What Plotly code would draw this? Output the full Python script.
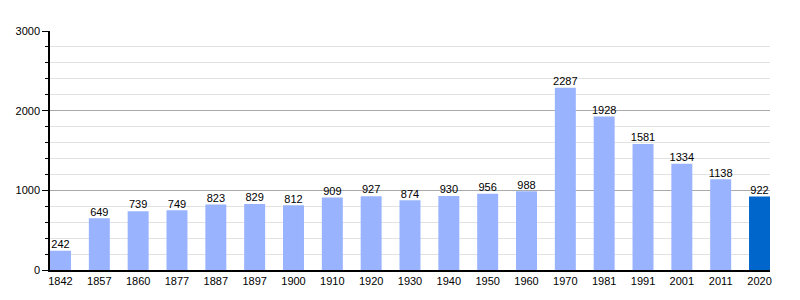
import plotly.graph_objects as go

years = ["1842", "1857", "1860", "1877", "1887", "1897", "1900", "1910", "1920", "1930",
         "1940", "1950", "1960", "1970", "1981", "1991", "2001", "2011", "2020"]
population = [242, 649, 739, 749, 823, 829, 812, 909, 927, 874,
              930, 956, 988, 2287, 1928, 1581, 1334, 1138, 922]
y_ticks = [0, 1000, 2000, 3000]

colors = ["#99b3ff"] * (len(years) - 1) + ["#0066cc"]
FONT = "Liberation Sans, Arial, sans-serif"

fig = go.Figure()
fig.add_trace(go.Bar(
    x=years, y=population, marker=dict(color=colors, line=dict(width=0)),
    width=0.54, hoverinfo="x+y",
))
fig.add_trace(go.Scatter(
    x=years, y=population, mode="text", text=[str(v) for v in population],
    textposition="top center",
    textfont=dict(family=FONT, size=11, color="#000"),
    cliponaxis=False, hoverinfo="skip",
))

fig.update_layout(
    width=800, height=300,
    margin=dict(l=50, r=30, t=31, b=30),
    plot_bgcolor="white", paper_bgcolor="white",
    showlegend=False,
    font=dict(family=FONT, size=11, color="#000"),
    xaxis=dict(
        type="category", range=[-0.27, len(years) - 1 + 0.27],
        showline=True, linecolor="#000", linewidth=1.5,
        ticks="", showgrid=False, tickfont=dict(size=11),
    ),
    yaxis=dict(
        range=[0, 3000], tickvals=y_ticks, ticktext=[str(v) for v in y_ticks],
        showline=True, linecolor="#000", linewidth=1.5,
        ticks="outside", ticklen=6, tickcolor="#000", tickwidth=1,
        showgrid=True, gridcolor="#aaaaaa", gridwidth=1,
        zeroline=False, tickfont=dict(size=11),
        minor=dict(dtick=200, showgrid=True, gridcolor="#e2e2e2", gridwidth=1,
                   ticks="outside", ticklen=3, tickcolor="#000"),
    ),
)

fig.write_html("out.html")
